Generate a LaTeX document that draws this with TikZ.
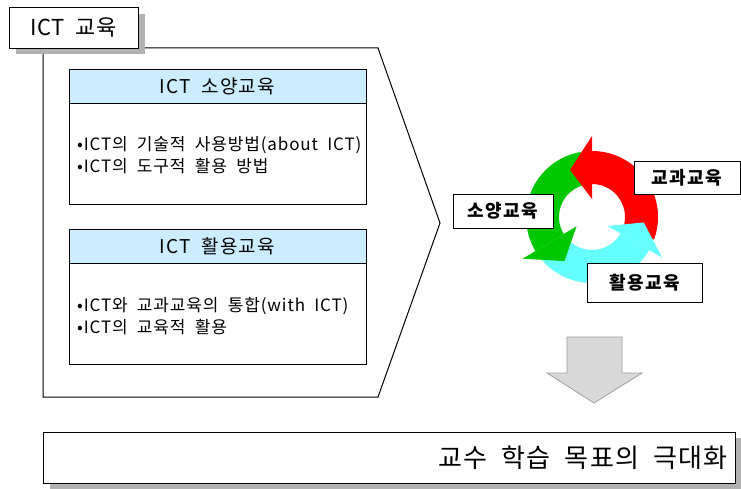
\documentclass[tikz,border=0pt]{standalone}
\usepackage{fontspec}
\setmainfont{Noto Sans CJK KR}[WordSpace=2]
\definecolor{hdrblue}{RGB}{204,236,255}
\definecolor{arrred}{RGB}{255,0,0}
\definecolor{arrgreen}{RGB}{0,200,0}
\definecolor{arrcyan}{RGB}{102,255,255}
\definecolor{shadowgray}{RGB}{178,178,178}
\definecolor{downfill}{RGB}{217,217,217}
\definecolor{downline}{RGB}{160,160,160}
\begin{document}
\begin{tikzpicture}[x=1pt,y=-1pt,
  frame/.style={draw=black, line width=0.9pt, fill=white, inner sep=0pt},
  hdr/.style={draw=black, line width=0.9pt, fill=hdrblue, inner sep=0pt,
    minimum width=297pt, minimum height=34pt,
    font=\fontsize{19}{19}\selectfont\addfontfeatures{LetterSpace=6}},
  bodybox/.style={draw=black, line width=0.9pt, fill=white, inner sep=0pt,
    minimum width=297pt, minimum height=101pt},
  bodytxt/.style={align=left, inner sep=0pt,
    font=\fontsize{17}{22}\selectfont\addfontfeatures{LetterSpace=5}},
  cyclab/.style={frame, font=\fontsize{18}{18}\selectfont\bfseries\addfontfeatures{LetterSpace=8}}
]
\useasboundingbox (0,0) rectangle (741,489);

% chevron frame
\draw[line width=1pt, line join=miter] (43,48) -- (378,48) -- (440,223) -- (378,397) -- (43,397) -- cycle;

% ICT 교육 title box with shadow
\fill[shadowgray] (16,14) rectangle (145,54);
\node[frame, minimum width=129pt, minimum height=41pt,
  font=\fontsize{22}{22}\selectfont\addfontfeatures{LetterSpace=2}] (ict) at (73.5,27.5) {ICT 교육};

% box 1
\node[hdr] (h1) at (217.5,86) {ICT 소양교육};
\node[bodybox, anchor=north] (b1) at (h1.south) {};
\node[bodytxt, anchor=west] (t1) at (77,155) {•ICT의 기술적 사용방법(about ICT)\\•ICT의 도구적 활용 방법};

% box 2
\node[hdr] (h2) at (217.5,246) {ICT 활용교육};
\node[bodybox, anchor=north] (b2) at (h2.south) {};
\node[bodytxt, anchor=west] (t2) at (77,316) {•ICT와 교과교육의 통합(with ICT)\\•ICT의 교육적 활용};

% cycle of arrows
\begin{scope}[shift={(592,217)}, y=1pt]
  % bands
  \fill[arrcyan] (220:33) arc[start angle=220, end angle=330, radius=33] -- (330:66) arc[start angle=330, end angle=220, radius=66] -- cycle;
  \fill[arrgreen] (100:33) arc[start angle=100, end angle=211, radius=33] -- (211:66) arc[start angle=211, end angle=100, radius=66] -- cycle;
  \fill[arrred] (-20:33) arc[start angle=-20, end angle=90, radius=33] -- (90:66) arc[start angle=90, end angle=-20, radius=66] -- cycle;
  % heads
  \fill[arrred] (90:18) -- (90:81) -- (115:52) -- cycle;
  \fill[arrgreen] (211:18) -- (211:81) -- (238:52) -- cycle;
  \fill[arrcyan] (330:18) -- (330:81) -- (354:52) -- cycle;
\end{scope}

\node[cyclab, minimum width=100pt, minimum height=34pt] (soyang) at (503,211) {소양교육};
\node[cyclab, minimum width=106pt, minimum height=33pt] (gyogwa) at (687,177.5) {교과교육};
\node[cyclab, minimum width=115pt, minimum height=39pt] (hwalyong) at (644.5,282.5) {활용교육};

% down arrow
\draw[fill=downfill, draw=downline, line width=0.8pt, line join=miter]
  (567,337) -- (622,337) -- (622,373) -- (642,373) -- (594,403) -- (547,373) -- (567,373) -- cycle;

% bottom box with shadow
\fill[shadowgray] (50,438) rectangle (742,489);
\node[frame, minimum width=692pt, minimum height=51pt] (goal) at (389,457.5) {};
\node[anchor=east, inner sep=0pt,
  font=\fontsize{26}{26}\selectfont\addfontfeatures{LetterSpace=5}] (goaltxt) at (728,458) {교수 학습 목표의 극대화};
\end{tikzpicture}
\end{document}
